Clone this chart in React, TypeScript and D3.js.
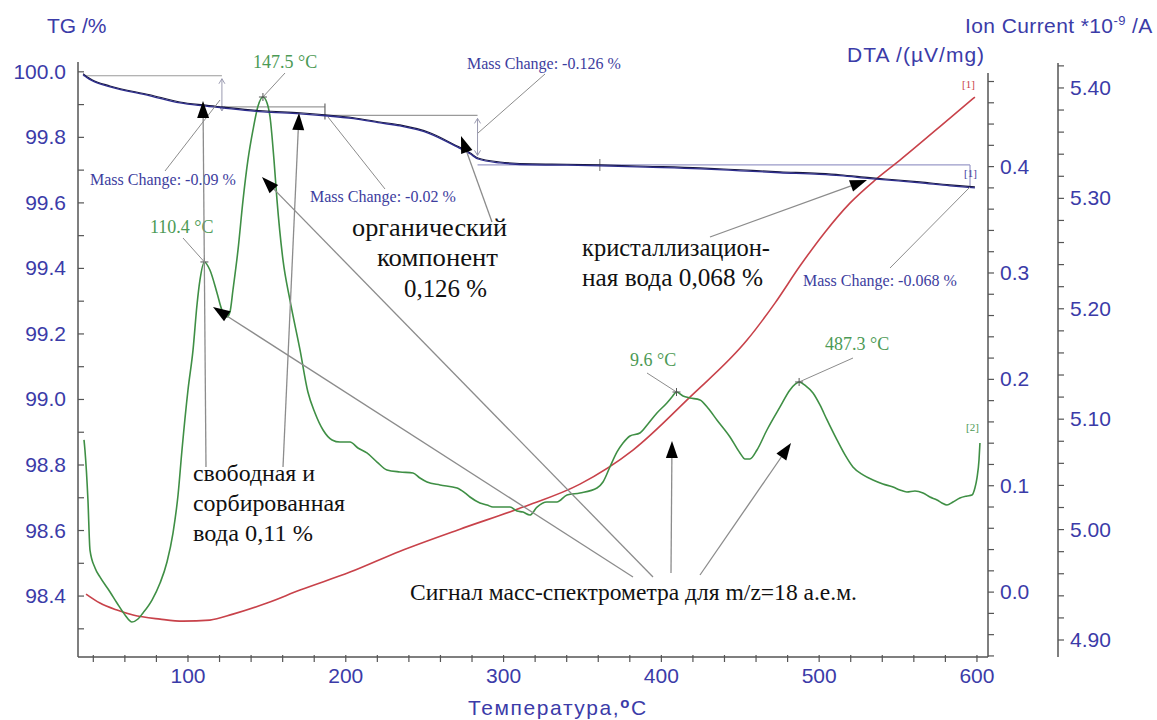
import React from "react";
import * as d3 from "d3";

// ---------- data ----------
// TG curve: temperature (°C) and mass (%)
const TG_T = [33.5, 36.0, 39.2, 50.6, 75.9, 94.9, 109.5, 121.5, 147.5, 171.0, 186.8, 205.0, 221.7, 234.3, 253.4, 269.2, 278.7, 283.8, 297.7, 318.6, 340.0, 361.1, 390.0, 424.5, 450.0, 475.2, 500.0, 513.2, 532.2, 550.0, 563.9, 582.9, 598.7];
const TG_V = [99.994, 99.985, 99.976, 99.957, 99.930, 99.908, 99.899, 99.893, 99.881, 99.875, 99.869, 99.860, 99.847, 99.838, 99.814, 99.777, 99.753, 99.737, 99.725, 99.719, 99.718, 99.716, 99.712, 99.707, 99.701, 99.695, 99.690, 99.686, 99.677, 99.670, 99.664, 99.655, 99.649];

// DTA curve: temperature (°C) and µV/mg
const DTA_T = [35.4, 44.2, 55.0, 65.2, 82.3, 96.8, 113.9, 128.5, 150.1, 171.0, 202.7, 234.4, 272.4, 312.3, 348.4, 382.0, 418.1, 454.3, 472.0, 487.8, 503.7, 519.5, 535.4, 551.2, 582.9, 598.7];
const DTA_V = [-0.0019, -0.0103, -0.0169, -0.0216, -0.0254, -0.0273, -0.0263, -0.0207, -0.0103, 0.0019, 0.0188, 0.0385, 0.0592, 0.0799, 0.1015, 0.1335, 0.1833, 0.2369, 0.2717, 0.3065, 0.3384, 0.3657, 0.3873, 0.4061, 0.4456, 0.4654];

// Ion current m/z=18: temperature (°C) and *10^-9 A
const MS_T = [34.1, 34.7, 36.6, 37.9, 41.1, 44.2, 50.6, 55.0, 60.1, 64.5, 68.3, 71.5, 77.2, 82.3, 86.7, 90.5, 93.7, 96.2, 100.0, 103.2, 105.7, 107.6, 110.4, 113.9, 118.4, 121.5, 124.7, 126.6, 128.5, 131.7, 134.9, 138.0, 141.2, 144.4, 147.5, 150.1, 152.0, 154.5, 156.4, 160.2, 164.6, 171.0, 176.0, 180.5, 185.6, 191.3, 196.3, 202.7, 207.7, 213.4, 219.8, 226.1, 234.3, 242.6, 247.0, 251.5, 259.7, 270.5, 275.5, 278.7, 285.0, 289.5, 293.3, 297.7, 304.1, 308.5, 312.3, 316.7, 321.2, 327.5, 333.8, 340.2, 348.4, 359.2, 363.0, 367.4, 371.9, 375.7, 380.1, 386.4, 391.5, 397.2, 403.5, 406.7, 409.6, 413.7, 418.1, 424.5, 429.5, 435.2, 443.5, 449.8, 453.0, 456.1, 460.6, 466.9, 475.2, 481.5, 485.0, 487.3, 491.5, 496.1, 500.5, 505.0, 511.3, 516.4, 521.4, 527.8, 534.1, 540.4, 546.8, 551.2, 555.6, 560.7, 565.8, 570.2, 574.7, 577.8, 581.0, 584.8, 589.2, 593.7, 596.8, 598.7, 600.0, 601.3, 601.9];
const MS_V = [5.0812, 5.0721, 5.0268, 4.9815, 4.9652, 4.9571, 4.9435, 4.9335, 4.9227, 4.9163, 4.9190, 4.9245, 4.9362, 4.9516, 4.9707, 4.9969, 5.0313, 5.0721, 5.1264, 5.1627, 5.2034, 5.2261, 5.2424, 5.2351, 5.2143, 5.1989, 5.1926, 5.1971, 5.2170, 5.2533, 5.2986, 5.3348, 5.3620, 5.3837, 5.3918, 5.3864, 5.3737, 5.3348, 5.2986, 5.2442, 5.2080, 5.1627, 5.1246, 5.1056, 5.0902, 5.0812, 5.0793, 5.0793, 5.0739, 5.0694, 5.0612, 5.0540, 5.0522, 5.0513, 5.0467, 5.0431, 5.0404, 5.0377, 5.0332, 5.0295, 5.0241, 5.0223, 5.0204, 5.0204, 5.0204, 5.0168, 5.0159, 5.0132, 5.0204, 5.0250, 5.0250, 5.0313, 5.0332, 5.0377, 5.0431, 5.0567, 5.0703, 5.0784, 5.0848, 5.0875, 5.0957, 5.1056, 5.1147, 5.1201, 5.1246, 5.1210, 5.1192, 5.1174, 5.1101, 5.0993, 5.0839, 5.0694, 5.0639, 5.0639, 5.0721, 5.0902, 5.1111, 5.1264, 5.1319, 5.1337, 5.1301, 5.1237, 5.1129, 5.0993, 5.0812, 5.0676, 5.0567, 5.0495, 5.0449, 5.0413, 5.0386, 5.0359, 5.0341, 5.0350, 5.0332, 5.0295, 5.0268, 5.0241, 5.0223, 5.0250, 5.0286, 5.0304, 5.0313, 5.0377, 5.0467, 5.0630, 5.0784];

// peaks of the ion-current curve and their labels
const PEAK_T = [110.4, 147.5, 409.6, 487.3];
const PEAK_LABELS = ["110.4 °C", "147.5 °C", "9.6 °C", "487.3 °C"];

// mass-change steps on TG: T positions and TG levels
const STEP_T = [33.5, 121.5, 186.8, 283.5, 595.6];
const STEP_TG = [99.988, 99.893, 99.867, 99.716, 99.649];
const MASS_CHANGE_LABELS = ["Mass Change: -0.09 %", "Mass Change: -0.02 %", "Mass Change: -0.126 %", "Mass Change: -0.068 %"];

// tick values
const X_MAJOR = [100, 200, 300, 400, 500, 600];
const TG_MAJOR = [98.4, 98.6, 98.8, 99.0, 99.2, 99.4, 99.6, 99.8, 100.0];
const DTA_MAJOR = [0.0, 0.1, 0.2, 0.3, 0.4];
const MS_MAJOR = [4.9, 5.0, 5.1, 5.2, 5.3, 5.4];

const SANS = "'Liberation Sans', Arial, sans-serif";
const SERIF = "'Liberation Serif', 'Times New Roman', serif";
const AXIS_BLUE = "#3b3ba8";
const GREEN = "#3f8f45";
const GREEN_TXT = "#4c9a55";
const RED = "#c8424a";
const TG_COL = "#2c2c8c";
const LEAD = "#8c8c8c";

function range(a: number, b: number, s: number) {
  const out: number[] = [];
  for (let v = a; v <= b + s * 1e-6; v += s) out.push(+v.toFixed(6));
  return out;
}

function arrowPts(x1: number, y1: number, x2: number, y2: number, len = 17, hw = 6) {
  const dx = x2 - x1, dy = y2 - y1, L = Math.hypot(dx, dy);
  const ux = dx / L, uy = dy / L;
  const bx = x2 - ux * len, by = y2 - uy * len;
  return {
    pts: `${x2},${y2} ${bx - uy * hw},${by + ux * hw} ${bx + uy * hw},${by - ux * hw}`,
    bx, by,
  };
}

export default function App() {
  const x = d3.scaleLinear().domain([30.3, 607]).range([78, 988]);
  const yTG = d3.scaleLinear().domain([98.214, 100.03]).range([657, 62]);
  const yDTA = d3.scaleLinear().domain([-0.061, 0.488]).range([657, 73]);
  const yMS = d3.scaleLinear().domain([4.8846, 5.4226]).range([657, 63]);

  const tgLine = d3.line<number>().x((_, i) => x(TG_T[i])).y((v) => yTG(v)).curve(d3.curveMonotoneX);
  const dtaLine = d3.line<number>().x((_, i) => x(DTA_T[i])).y((v) => yDTA(v)).curve(d3.curveMonotoneX);
  const msLine = d3.line<number>().x((_, i) => x(MS_T[i])).y((v) => yMS(v)).curve(d3.curveMonotoneX);

  const msAt = (t: number) => {
    const i = MS_T.findIndex((v) => v >= t);
    if (i <= 0) return MS_V[0];
    const f = (t - MS_T[i - 1]) / (MS_T[i] - MS_T[i - 1]);
    return MS_V[i - 1] + f * (MS_V[i] - MS_V[i - 1]);
  };

  const bottom = 657;
  const xMinor = range(40, 600, 20);
  const tgMinor = range(98.3, 100.0, 0.1);
  const dtaMinor = range(-0.06, 0.48, 0.02);
  const msMinor = range(4.9, 5.42, 0.02);

  const peakText = [
    { tx: 150, ty: 233, lx: 183, ly: 238 },
    { tx: 253, ty: 68, lx: 285, ly: 73 },
    { tx: 630, ty: 366, lx: 647, ly: 373 },
    { tx: 825, ty: 350, lx: 853, ly: 358 },
  ];

  const arrows = [
    [206, 467, 203, 101],
    [283, 467, 299, 113],
    [633, 577, 213, 307],
    [653, 577, 262, 177],
    [671, 573, 672, 441],
    [700, 575, 791, 443],
    [492, 222, 461, 136],
    [710, 237, 867, 180],
  ];

  const mcText = [
    { tx: 90, ty: 185, l: [165, 171, 220, 100] },
    { tx: 310, ty: 202, l: [385, 189, 328, 117] },
    { tx: 467, ty: 69, l: [545, 74, 478, 133] },
    { tx: 803, ty: 286, l: [890, 268, 970, 187] },
  ];

  const serifLines = [
    { t: "органический", x: 352, y: 236, fs: 26, w: 155 },
    { t: "компонент", x: 377, y: 266, fs: 26, w: 121 },
    { t: "0,126 %", x: 404, y: 297, fs: 26, w: 83 },
    { t: "кристаллизацион-", x: 582, y: 256, fs: 25, w: 188 },
    { t: "ная вода 0,068 %", x: 582, y: 286, fs: 25, w: 181 },
    { t: "свободная и", x: 193, y: 481, fs: 24, w: 122 },
    { t: "сорбированная", x: 193, y: 511, fs: 24, w: 152 },
    { t: "вода 0,11 %", x: 193, y: 541, fs: 24, w: 120 },
    { t: "Сигнал масс-спектрометра для m/z=18 а.е.м.", x: 410, y: 600, fs: 23.5, w: 447 },
  ];

  const smallArrow = (xx: number, y1: number, y2: number) => (
    <g stroke="#9a9ab0" strokeWidth={1} fill="none">
      <line x1={xx} y1={y1} x2={xx} y2={y2} />
      <polyline points={`${xx - 3},${y1 + 5} ${xx},${y1} ${xx + 3},${y1 + 5}`} />
      <polyline points={`${xx - 3},${y2 - 5} ${xx},${y2} ${xx + 3},${y2 - 5}`} />
    </g>
  );

  return (
    <svg width={1157} height={720} style={{ position: "absolute", left: 0, top: 0, background: "#fff" }}>
      <rect x={0} y={0} width={1157} height={720} fill="#fff" />

      {/* mass change step lines */}
      <g stroke="#9a9a9a" strokeWidth={1.2} fill="none">
        <line x1={x(STEP_T[0])} x2={x(STEP_T[1])} y1={yTG(STEP_TG[0])} y2={yTG(STEP_TG[0])} />
        <line x1={x(STEP_T[1])} x2={x(STEP_T[2])} y1={yTG(STEP_TG[1])} y2={yTG(STEP_TG[1])} />
        <line x1={x(STEP_T[2])} x2={x(STEP_T[3])} y1={yTG(STEP_TG[2])} y2={yTG(STEP_TG[2])} />
        <line x1={x(STEP_T[3])} x2={x(STEP_T[4])} y1={yTG(STEP_TG[3])} y2={yTG(STEP_TG[3])} stroke="#9a9ac8" />
        <line x1={x(STEP_T[2])} x2={x(STEP_T[2])} y1={yTG(STEP_TG[2]) - 12} y2={yTG(STEP_TG[2]) + 4} stroke="#666" />
        <line x1={x(361)} x2={x(361)} y1={yTG(99.716) - 6} y2={yTG(99.716) + 6} stroke="#888" />
        <line x1={x(STEP_T[4])} x2={x(STEP_T[4])} y1={yTG(STEP_TG[3])} y2={yTG(STEP_TG[4])} stroke="#9a9ac8" />
      </g>
      {smallArrow(x(STEP_T[1]), yTG(STEP_TG[0]) + 3, yTG(STEP_TG[1]) + 4)}
      {smallArrow(x(STEP_T[3]), yTG(STEP_TG[2]) + 3, yTG(99.745))}

      {/* curves */}
      <path d={dtaLine(DTA_V) || ""} fill="none" stroke={RED} strokeWidth={1.6} />
      <path d={msLine(MS_V) || ""} fill="none" stroke={GREEN} strokeWidth={1.6} />
      <path d={tgLine(TG_V) || ""} fill="none" stroke="#1a1a40" strokeWidth={1.1} />
      <path d={tgLine(TG_V) || ""} fill="none" stroke={TG_COL} strokeWidth={1.3} transform="translate(0,1)" />

      {/* peak markers and labels */}
      {PEAK_T.map((t, i) => {
        const px = x(t), py = yMS(msAt(t));
        const p = peakText[i];
        return (
          <g key={"pk" + i}>
            <line x1={p.lx} y1={p.ly} x2={px} y2={py} stroke={LEAD} strokeWidth={1} />
            <line x1={px - 4} x2={px + 4} y1={py} y2={py} stroke="#555" strokeWidth={1} />
            <line x1={px} x2={px} y1={py - 4} y2={py + 4} stroke="#555" strokeWidth={1} />
            <text x={p.tx} y={p.ty} fontFamily={SERIF} fontSize={18} fill={GREEN_TXT}>{PEAK_LABELS[i]}</text>
          </g>
        );
      })}

      {/* mass change labels */}
      {MASS_CHANGE_LABELS.map((s, i) => {
        const m = mcText[i];
        return (
          <g key={"mc" + i}>
            <line x1={m.l[0]} y1={m.l[1]} x2={m.l[2]} y2={m.l[3]} stroke={LEAD} strokeWidth={1} />
            <text x={m.tx} y={m.ty} fontFamily={SERIF} fontSize={16} fill="#3d3d9e">{s}</text>
          </g>
        );
      })}

      {/* end markers */}
      <text x={962} y={88} fontFamily={SERIF} fontSize={11} fill={RED}>[1]</text>
      <text x={964} y={177} fontFamily={SERIF} fontSize={11} fill="#3d3d9e">[1]</text>
      <text x={966} y={431} fontFamily={SERIF} fontSize={11} fill={GREEN_TXT}>[2]</text>

      {/* black arrows */}
      {arrows.map((a, i) => {
        const h = arrowPts(a[0], a[1], a[2], a[3]);
        return (
          <g key={"ar" + i}>
            <line x1={a[0]} y1={a[1]} x2={h.bx} y2={h.by} stroke={LEAD} strokeWidth={1.3} />
            <polygon points={h.pts} fill="#000" />
          </g>
        );
      })}

      {/* annotation text */}
      {serifLines.map((s, i) => (
        <text key={"s" + i} x={s.x} y={s.y} fontFamily={SERIF} fontSize={s.fs} fill="#111"
          textLength={s.w} lengthAdjust="spacingAndGlyphs">{s.t}</text>
      ))}

      {/* axes */}
      <g stroke="#555" strokeWidth={1.5} fill="none">
        <line x1={78} x2={78} y1={62} y2={bottom} />
        <line x1={78} x2={988} y1={bottom} y2={bottom} />
        <line x1={988} x2={988} y1={73} y2={bottom} />
        <line x1={1058} x2={1058} y1={63} y2={bottom} />
      </g>
      <g stroke="#555" strokeWidth={1.2}>
        {tgMinor.map((v) => (
          <line key={"tg" + v} x1={78} x2={84} y1={yTG(v)} y2={yTG(v)} />
        ))}
        {xMinor.map((v) => (
          <line key={"x" + v} x1={x(v)} x2={x(v)} y1={bottom - 2} y2={bottom + 5} />
        ))}
        {dtaMinor.map((v) => (
          <line key={"d" + v} x1={988} x2={994} y1={yDTA(v)} y2={yDTA(v)} />
        ))}
        {msMinor.map((v) => (
          <line key={"m" + v} x1={1058} x2={1064} y1={yMS(v)} y2={yMS(v)} />
        ))}
      </g>
      <g fontFamily={SANS} fontSize={21} fill={AXIS_BLUE}>
        {TG_MAJOR.map((v) => (
          <text key={"tl" + v} x={66} y={yTG(v) + 7} textAnchor="end">{v.toFixed(1)}</text>
        ))}
        {X_MAJOR.map((v) => (
          <text key={"xl" + v} x={x(v)} y={683} textAnchor="middle">{v}</text>
        ))}
        {DTA_MAJOR.map((v) => (
          <text key={"dl" + v} x={1000} y={yDTA(v) + 7}>{v.toFixed(1)}</text>
        ))}
        {MS_MAJOR.map((v) => (
          <text key={"ml" + v} x={1070} y={yMS(v) + 7}>{v.toFixed(2)}</text>
        ))}
        <text x={47} y={33}>TG /%</text>
        <text x={847} y={62} letterSpacing={1}>DTA /(µV/mg)</text>
        <text x={965} y={33} letterSpacing={0.4}>
          Ion Current *10<tspan fontSize={13} dy={-8}>-9</tspan>
          <tspan dy={8}> /A</tspan>
        </text>
        <text x={468} y={715} letterSpacing={1.6}>
          Температура,<tspan fontSize={15} dy={-7} fontWeight="bold">o</tspan>
          <tspan dy={7}>C</tspan>
        </text>
      </g>
    </svg>
  );
}
